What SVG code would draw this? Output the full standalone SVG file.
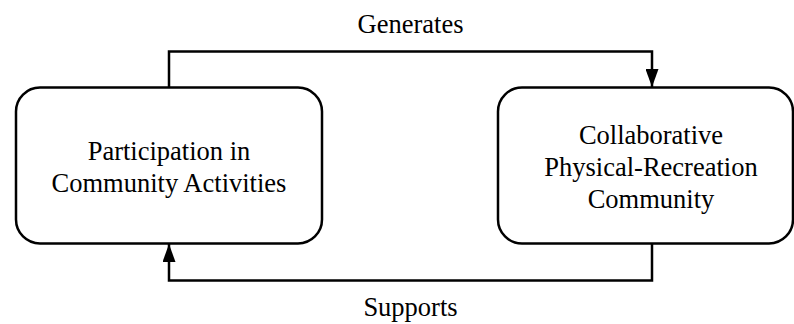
<svg xmlns="http://www.w3.org/2000/svg" width="794" height="324" viewBox="0 0 794 324">
  <style>
    .box { fill: #ffffff; stroke: #000000; stroke-width: 2.5; }
    .label { font-family: "Liberation Serif", "Times New Roman", serif; font-size: 26.5px; fill: #000000; text-anchor: middle; }
    .link { fill: none; stroke: #000000; stroke-width: 2.5; marker-end: url(#arrow); }
  </style>
  <defs>
    <marker id="arrow" viewBox="0 0 18 13" refX="18" refY="6.5" markerWidth="18" markerHeight="13" markerUnits="userSpaceOnUse" orient="auto">
      <path d="M0,0 L18,6.5 L0,13 Z" fill="#000000"/>
    </marker>
  </defs>
  <rect width="794" height="324" fill="#ffffff"/>

  <g id="connectors">
    <path class="link" d="M169,87 V51.5 H652 V87"/>
    <path class="link" d="M652,244 V280.5 H169 V244"/>
    <text class="label" x="410.5" y="33">Generates</text>
    <text class="label" x="410.5" y="316">Supports</text>
  </g>

  <g id="participation">
    <rect class="box" x="16" y="87.5" width="306" height="156" rx="24" ry="24"/>
    <text class="label" x="169" y="160">Participation in</text>
    <text class="label" x="169" y="192">Community Activities</text>
  </g>

  <g id="community">
    <rect class="box" x="498" y="87.5" width="295" height="156" rx="24" ry="24"/>
    <text class="label" x="651" y="144">Collaborative</text>
    <text class="label" x="651" y="176">Physical-Recreation</text>
    <text class="label" x="651" y="208">Community</text>
  </g>
</svg>
